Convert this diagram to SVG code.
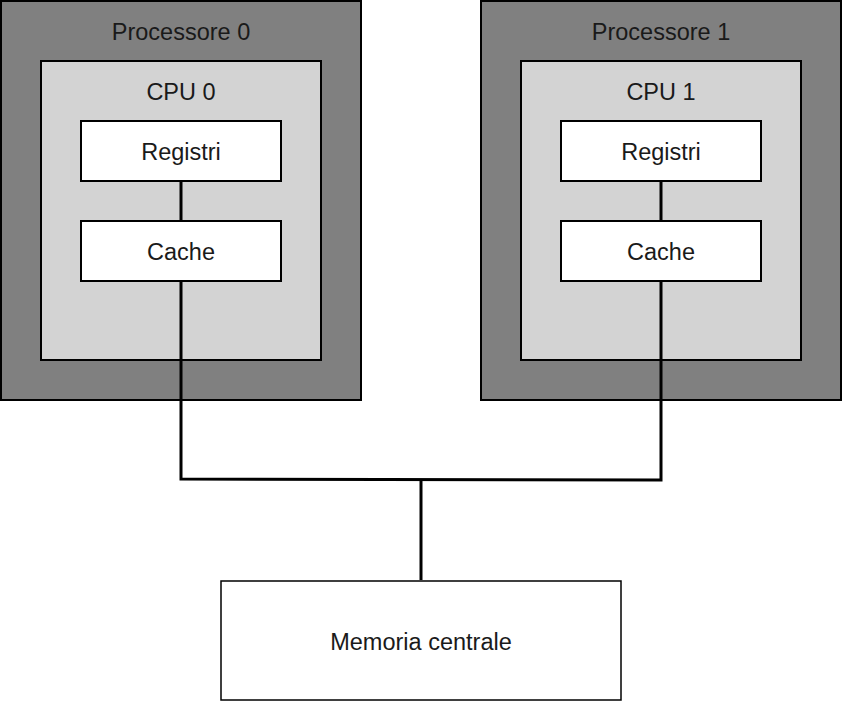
<svg xmlns="http://www.w3.org/2000/svg" width="842" height="702" viewBox="0 0 842 702">
<style>
.proc{fill:#808080;stroke:#000;stroke-width:2}
.cpu{fill:#d3d3d3;stroke:#000;stroke-width:2}
.box{fill:#fff;stroke:#000;stroke-width:2}
.mem{fill:#fff;stroke:#000;stroke-width:1.5}
text{font-family:"Liberation Sans",Arial,sans-serif;font-size:23.5px;fill:#1a1a1a;text-anchor:middle}
.conn{fill:none;stroke:#000;stroke-width:3}
</style>
<rect width="842" height="702" fill="#fff"/>
<g id="processore0">
<rect class="proc" x="1" y="1" width="360" height="399"/>
<text x="181" y="40">Processore 0</text>
</g>
<g id="cpu0">
<rect class="cpu" x="41" y="61" width="280" height="299"/>
<text x="181" y="100">CPU 0</text>
</g>
<g id="registri0">
<rect class="box" x="81" y="121" width="200" height="60"/>
<text x="181" y="160">Registri</text>
</g>
<g id="cache0">
<rect class="box" x="81" y="221" width="200" height="60"/>
<text x="181" y="260">Cache</text>
</g>
<g id="processore1">
<rect class="proc" x="481" y="1" width="360" height="399"/>
<text x="661" y="40">Processore 1</text>
</g>
<g id="cpu1">
<rect class="cpu" x="521" y="61" width="280" height="299"/>
<text x="661" y="100">CPU 1</text>
</g>
<g id="registri1">
<rect class="box" x="561" y="121" width="200" height="60"/>
<text x="661" y="160">Registri</text>
</g>
<g id="cache1">
<rect class="box" x="561" y="221" width="200" height="60"/>
<text x="661" y="260">Cache</text>
</g>
<g id="memoria">
<rect class="mem" x="221" y="581" width="400" height="119"/>
<text x="421" y="650">Memoria centrale</text>
</g>
<g id="connectors">
<line class="conn" x1="181" y1="182" x2="181" y2="220"/>
<line class="conn" x1="661" y1="182" x2="661" y2="220"/>
<polyline class="conn" points="181,282 181,479 661,480 661,282"/>
<line class="conn" x1="421" y1="480" x2="421" y2="580"/>
</g>
</svg>
